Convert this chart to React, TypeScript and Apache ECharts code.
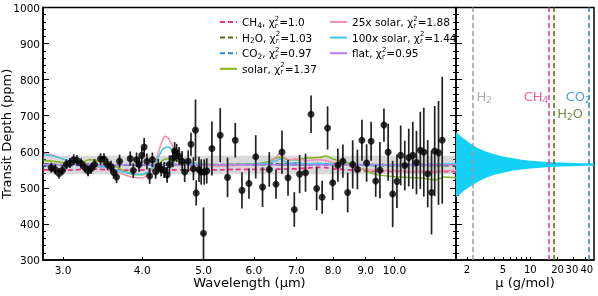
import React, { useEffect, useRef } from 'react';
import * as echarts from 'echarts';

// Observed spectrum
const wavelengths = [2.874, 2.916, 2.957, 2.995, 3.038, 3.077, 3.119, 3.157, 3.203, 3.244, 3.286, 3.324, 3.364, 3.438, 3.482, 3.527, 3.572, 3.605, 3.644, 3.684, 3.83, 3.872, 3.919, 3.955, 3.994, 4.028, 4.069, 4.109, 4.15, 4.2, 4.24, 4.285, 4.331, 4.379, 4.416, 4.471, 4.5, 4.533, 4.574, 4.624, 4.667, 4.727, 4.775, 4.818, 4.854, 4.866, 4.916, 4.955, 4.997, 5.01, 5.056, 5.152, 5.31, 5.453, 5.608, 5.746, 5.894, 6.041, 6.192, 6.345, 6.502, 6.645, 6.792, 6.949, 7.085, 7.238, 7.384, 7.536, 7.688, 7.841, 7.988, 8.14, 8.29, 8.435, 8.59, 8.738, 8.883, 9.035, 9.184, 9.339, 9.483, 9.622, 9.77, 9.932, 10.088, 10.225, 10.378, 10.53, 10.685, 10.829, 10.98, 11.121, 11.28, 11.437, 11.57, 11.731, 11.89];
const depths = [556, 551, 540, 549, 565, 569, 578, 576, 568, 557, 547, 554, 565, 580, 580, 565, 559, 543, 530, 574, 581, 548, 578, 565, 590, 613, 573, 533, 578, 545, 560, 552, 549, 536, 565, 582, 602, 597, 588, 574, 544, 574, 621, 553, 660, 486, 551, 544, 374, 544, 547, 609, 646, 529, 632, 493, 512, 586, 502, 551, 510, 599, 528, 440, 538, 542, 704, 498, 474, 666, 514, 563, 574, 487, 565, 551, 632, 569, 629, 519, 549, 674, 599, 483, 518, 590, 562, 584, 590, 570, 604, 599, 539, 487, 602, 597, 632];
const errors = [14, 14, 15, 14, 14, 14, 15, 15, 14, 14, 15, 15, 15, 16, 16, 16, 16, 17, 17, 18, 20, 20, 20, 20, 22, 25, 22, 22, 20, 20, 20, 20, 22, 22, 25, 25, 25, 25, 25, 28, 28, 30, 32, 32, 85, 35, 35, 35, 72, 35, 35, 75, 75, 55, 48, 50, 42, 60, 55, 48, 40, 60, 50, 48, 53, 53, 52, 60, 46, 60, 48, 46, 46, 55, 67, 55, 57, 52, 54, 44, 78, 46, 79, 92, 74, 83, 69, 80, 93, 88, 107, 123, 93, 116, 125, 144, 176];

// Models
const modelWl = [2.8, 2.9, 3.0, 3.1, 3.2, 3.3, 3.4, 3.5, 3.6, 3.7, 3.8, 3.9, 4.0, 4.1, 4.2, 4.3, 4.35, 4.4, 4.5, 4.6, 4.7, 4.8, 5.0, 5.3, 5.6, 6.0, 6.3, 6.5, 6.6, 6.8, 7.0, 7.3, 7.6, 7.8, 8.0, 8.3, 8.6, 9.0, 9.4, 10.0, 10.5, 11.0, 11.6, 12.0, 12.5];
const ch4Model = [550, 550, 549, 549, 551, 553, 552, 550, 549, 549, 549, 549, 549, 549, 550, 550, 550, 550, 550, 550, 550, 550, 550, 550, 551, 551, 551, 552, 552, 552, 553, 555, 557, 556, 553, 551, 549, 547, 546, 546, 545, 545, 545, 545, 545];
const h2oModel = [566, 565, 564, 564, 565, 566, 565, 564, 563, 563, 563, 563, 563, 564, 564, 564, 564, 564, 564, 564, 564, 564, 564, 564, 565, 565, 568, 567, 566, 566, 566, 566, 566, 566, 566, 565, 564, 563, 562, 562, 562, 562, 562, 562, 562];
const co2Model = [562, 562, 562, 562, 563, 563, 563, 563, 563, 563, 563, 563, 563, 563, 564, 567, 568, 567, 565, 564, 563, 563, 563, 563, 563, 563, 564, 564, 564, 564, 564, 564, 564, 564, 564, 564, 564, 564, 564, 564, 565, 565, 565, 565, 565];
const solarModel = [576, 574, 570, 566, 568, 578, 575, 568, 562, 552, 542, 536, 536, 545, 560, 575, 580, 580, 575, 572, 570, 568, 566, 564, 565, 566, 572, 582, 585, 578, 578, 583, 584, 588, 580, 572, 565, 548, 536, 531, 529, 527, 522, 530, 528];
const solar25Model = [596, 590, 580, 570, 562, 560, 558, 555, 548, 540, 533, 528, 528, 540, 575, 630, 643, 638, 605, 585, 574, 568, 562, 560, 562, 564, 566, 585, 595, 578, 580, 576, 578, 575, 570, 565, 560, 552, 548, 548, 545, 546, 543, 548, 548];
const solar100Model = [592, 588, 580, 572, 565, 562, 560, 557, 552, 546, 541, 538, 538, 546, 570, 605, 612, 613, 596, 582, 572, 568, 565, 564, 565, 566, 568, 575, 580, 568, 570, 567, 568, 566, 566, 565, 565, 562, 562, 563, 563, 564, 563, 566, 566];
const flatWl = [2.79, 12.5];
const flatModel = [564, 564];
const chi2 = ['1.0', '1.03', '0.97', '1.37', '1.88', '1.44', '0.95'];
const grayBand = [538, 589];

// Right panel: depth range vs mean molecular weight
const bandMu = [1.51, 1.8, 2.0, 2.3, 2.7, 3.2, 4.0, 5.0, 6.5, 8.0, 10, 13, 17, 22, 30, 40, 50.6];
const bandLow = [474, 490, 498, 508, 518, 527, 536, 542, 548, 551, 554, 556, 558, 559, 560, 561, 561];
const bandHigh = [654, 638, 630, 619, 609, 601, 593, 587, 582, 578, 575, 573, 571, 570, 569, 568, 568];
const gasNames = ['H2', 'CH4', 'H2O', 'CO2'];
const gasMu = [2.3, 16, 18, 44];
const gasLabelMu = [2.55, 15.8, 19.9, 24.6];
const gasLabelPpm = [753, 753, 706, 753];

const wlTicks = [3, 4, 5, 6, 7, 8, 9, 10];
const muTicksA = [2, 5, 10, 20, 40];
const muTicksB = [30];
const muMinorTicks = [2, 3, 4, 5, 6, 7, 8, 9, 10, 20, 30, 40];

const colors: Record<string, string> = {
  CH4: '#e8358c',
  H2O: '#4f6b16',
  CO2: '#2b86c6',
  solar: '#84b51c',
  '25x solar': '#f590ae',
  '100x solar': '#45c3f0',
  flat: '#b67ef2',
  H2: '#9a9a9a',
};

const legendText: Record<string, string> = {
  CH4: `{t|CH}{b|4}{t|, χ}{r|r}{p|2}{t|=${chi2[0]}}`,
  H2O: `{t|H}{b|2}{t|O, χ}{r|r}{p|2}{t|=${chi2[1]}}`,
  CO2: `{t|CO}{b|2}{t|, χ}{r|r}{p|2}{t|=${chi2[2]}}`,
  solar: `{t|solar, χ}{r|r}{p|2}{t|=${chi2[3]}}`,
  '25x solar': `{t|25x solar, χ}{r|r}{p|2}{t|=${chi2[4]}}`,
  '100x solar': `{t|100x solar, χ}{r|r}{p|2}{t|=${chi2[5]}}`,
  flat: `{t|flat, χ}{r|r}{p|2}{t|=${chi2[6]}}`,
};

const gasText = ['{g|H}{gb|2}', '{g|CH}{gb|4}', '{g|H}{gb|2}{g|O}', '{g|CO}{gb|2}'];

const legendRich = {
  t: { fontSize: 10.5, lineHeight: 14, color: '#000', fontFamily: 'DejaVu Sans' },
  b: { fontSize: 7.5, lineHeight: 9, verticalAlign: 'bottom', color: '#000', fontFamily: 'DejaVu Sans' },
  r: { fontSize: 7, lineHeight: 8, verticalAlign: 'bottom', width: 0.01, color: '#000', fontFamily: 'DejaVu Sans' },
  p: { fontSize: 7, lineHeight: 8, verticalAlign: 'top', color: '#000', fontFamily: 'DejaVu Sans' },
};

function modelSeries(name: string, wl: number[], vals: number[], dashed: boolean) {
  return {
    name,
    type: 'line',
    xAxisIndex: 0,
    yAxisIndex: 0,
    data: wl.map((w, i) => [w, vals[i]]),
    symbol: 'none',
    smooth: 0.2,
    z: 3,
    lineStyle: { color: colors[name], width: dashed ? 1.8 : 1.5, type: dashed ? [5, 3] : 'solid' },
    itemStyle: { color: colors[name] },
  };
}

const yTickCommon = {
  show: true,
  inside: true,
  length: 6,
  lineStyle: { color: '#000', width: 1 },
};
const yMinorCommon = {
  show: true,
  splitNumber: 5,
  length: 3,
  lineStyle: { color: '#000', width: 1 },
};

const legendCommon = {
  orient: 'vertical',
  top: 15,
  padding: 0,
  itemWidth: 17,
  itemHeight: 10,
  itemGap: 1.6,
  itemStyle: { opacity: 0 },
  formatter: (n: string) => legendText[n],
  textStyle: { rich: legendRich },
};

const muRich = {
  l: { fontSize: 10, fontFamily: 'DejaVu Sans', color: '#000', padding: [0, 0, 0, 4] },
  e: { fontSize: 10, fontFamily: 'DejaVu Sans', color: '#000', padding: [0, 3, 0, 0] },
};

export default function App() {
  const ref = useRef<HTMLDivElement>(null);
  useEffect(() => {
    if (!ref.current) return;
    const chart = echarts.init(ref.current, undefined, { renderer: 'svg' });
    const muLabelA = (v: number) => {
      const s = String(Math.round(v));
      return v > 35 ? `{l|${s}}` : s;
    };
    const muLabelB = (v: number) => `{e|${String(Math.round(v))}}`;
    const option: any = {
      animation: false,
      textStyle: { fontFamily: 'DejaVu Sans', color: '#000' },
      grid: [
        { left: 43, top: 7.5, width: 413, height: 252.5, show: true, borderColor: '#000', borderWidth: 1.5, backgroundColor: 'transparent', containLabel: false, outerBoundsMode: 'none' },
        { left: 456, top: 7.5, width: 138, height: 252.5, show: true, borderColor: '#000', borderWidth: 1.5, backgroundColor: 'transparent', containLabel: false, outerBoundsMode: 'none' },
      ],
      xAxis: [
        {
          type: 'log',
          gridIndex: 0,
          min: 2.79,
          max: 12.5,
          axisLine: { show: true, lineStyle: { color: '#000', width: 1.5 } },
          axisTick: { show: true, inside: true, length: 3, customValues: wlTicks, lineStyle: { color: '#000' } },
          axisLabel: { customValues: wlTicks, interval: 0, hideOverlap: false, showMinLabel: true, showMaxLabel: true, formatter: (v: number) => v.toFixed(1), fontSize: 10.5, color: '#000', margin: 4 },
          splitLine: { show: false },
          minorTick: { show: false },
          name: 'Wavelength (μm)',
          nameLocation: 'middle',
          nameGap: 16,
          nameMoveOverlap: false,
          nameTextStyle: { fontSize: 13, color: '#000' },
        },
        {
          type: 'log',
          gridIndex: 1,
          position: 'bottom',
          min: 1.51,
          max: 50.6,
          axisLine: { show: true, lineStyle: { color: '#000', width: 1.5 } },
          axisTick: { show: true, inside: true, length: 3, customValues: muMinorTicks, lineStyle: { color: '#000' } },
          axisLabel: { customValues: muTicksA, interval: 0, hideOverlap: false, showMinLabel: true, showMaxLabel: true, formatter: muLabelA, rich: muRich, fontSize: 10, color: '#000', margin: 4 },
          splitLine: { show: false },
          minorTick: { show: false },
          name: 'μ (g/mol)',
          nameLocation: 'middle',
          nameGap: 16,
          nameMoveOverlap: false,
          nameTextStyle: { fontSize: 13, color: '#000' },
        },
        {
          type: 'log',
          gridIndex: 1,
          position: 'bottom',
          offset: 0,
          min: 1.51,
          max: 50.6,
          axisLine: { show: false },
          axisTick: { show: false },
          axisLabel: { customValues: muTicksB, interval: 0, hideOverlap: false, showMinLabel: true, showMaxLabel: true, formatter: muLabelB, rich: muRich, fontSize: 10, color: '#000', margin: 4 },
          splitLine: { show: false },
          minorTick: { show: false },
        },
      ],
      yAxis: [
        {
          type: 'value',
          gridIndex: 0,
          min: 300,
          max: 1000,
          interval: 100,
          axisLine: { show: true, lineStyle: { color: '#000', width: 1.5 } },
          axisTick: yTickCommon,
          minorTick: yMinorCommon,
          axisLabel: { fontSize: 10.5, color: '#000', margin: 3, formatter: (v: number) => String(v) },
          splitLine: { show: false },
          name: 'Transit Depth (ppm)',
          nameLocation: 'middle',
          nameGap: 30,
          nameMoveOverlap: false,
          nameTextStyle: { fontSize: 13, color: '#000' },
        },
        {
          type: 'value',
          gridIndex: 0,
          position: 'right',
          min: 300,
          max: 1000,
          interval: 100,
          axisLine: { show: false },
          axisTick: yTickCommon,
          minorTick: yMinorCommon,
          axisLabel: { show: false },
          splitLine: { show: false },
        },
        {
          type: 'value',
          gridIndex: 1,
          position: 'left',
          min: 300,
          max: 1000,
          interval: 100,
          axisLine: { show: false },
          axisTick: yTickCommon,
          minorTick: yMinorCommon,
          axisLabel: { show: false },
          splitLine: { show: false },
        },
      ],
      legend: [
        { ...legendCommon, data: ['CH4', 'H2O', 'CO2', 'solar'], left: 219 },
        { ...legendCommon, data: ['25x solar', '100x solar', 'flat'], left: 329 },
      ],
      series: [
        {
          name: '_band',
          type: 'line',
          xAxisIndex: 0,
          yAxisIndex: 0,
          data: [[flatWl[0], flatModel[0]]],
          symbol: 'none',
          lineStyle: { opacity: 0 },
          z: 1,
          markArea: {
            silent: true,
            itemStyle: { color: 'rgba(140,140,140,0.33)' },
            data: [[{ yAxis: grayBand[0] }, { yAxis: grayBand[1] }]],
          },
        },
        modelSeries('CH4', modelWl, ch4Model, true),
        modelSeries('H2O', modelWl, h2oModel, true),
        modelSeries('CO2', modelWl, co2Model, true),
        modelSeries('solar', modelWl, solarModel, false),
        modelSeries('25x solar', modelWl, solar25Model, false),
        modelSeries('100x solar', modelWl, solar100Model, false),
        modelSeries('flat', flatWl, flatModel, false),
        {
          name: '_err',
          type: 'custom',
          xAxisIndex: 0,
          yAxisIndex: 0,
          z: 4,
          data: wavelengths.map((w, i) => [w, depths[i], errors[i]]),
          renderItem: (params: any, api: any) => {
            const x = api.value(0);
            const y = api.value(1);
            const e = api.value(2);
            const a = api.coord([x, y + e]);
            const b = api.coord([x, y - e]);
            return {
              type: 'line',
              shape: { x1: a[0], y1: a[1], x2: b[0], y2: b[1] },
              style: { stroke: '#222', lineWidth: 1.7 },
            };
          },
        },
        {
          name: '_pts',
          type: 'scatter',
          xAxisIndex: 0,
          yAxisIndex: 0,
          z: 5,
          symbolSize: 7,
          itemStyle: { color: '#000' },
          data: wavelengths.map((w, i) => [w, depths[i]]),
        },
        {
          name: '_muBand',
          type: 'custom',
          xAxisIndex: 1,
          yAxisIndex: 2,
          z: 2,
          data: [[bandMu[0], bandLow[0]]],
          renderItem: (params: any, api: any) => {
            const upper = bandMu.map((m, i) => api.coord([m, bandHigh[i]]));
            const lower = bandMu.map((m, i) => api.coord([m, bandLow[i]])).reverse();
            return {
              type: 'polygon',
              shape: { points: upper.concat(lower), smooth: 0 },
              style: { fill: '#14d0f5', stroke: 'none' },
            };
          },
        },
        {
          name: '_gas',
          type: 'scatter',
          xAxisIndex: 1,
          yAxisIndex: 2,
          symbolSize: 0,
          z: 6,
          data: gasLabelMu.map((m, i) => ({
            value: [m, gasLabelPpm[i]],
            label: { position: i === 1 ? 'left' : 'right', color: colors[gasNames[i]] },
          })),
          label: {
            show: true,
            distance: 0,
            formatter: (p: any) => gasText[p.dataIndex],
            rich: {
              g: { fontSize: 13, lineHeight: 16, fontFamily: 'DejaVu Sans' },
              gb: { fontSize: 9, lineHeight: 10, verticalAlign: 'bottom', fontFamily: 'DejaVu Sans' },
            },
          },
          markLine: {
            silent: true,
            symbol: ['none', 'none'],
            label: { show: false },
            lineStyle: { type: [5, 3], width: 1.5 },
            data: gasMu.map((m, i) => ({ xAxis: m, lineStyle: { color: colors[gasNames[i]], type: [5, 3], width: 1.5 } })),
          },
        },
      ],
    };
    chart.setOption(option);
    return () => chart.dispose();
  }, []);
  return <div ref={ref} style={{ position: 'fixed', left: 0, top: 0, width: 598, height: 296 }} />;
}
